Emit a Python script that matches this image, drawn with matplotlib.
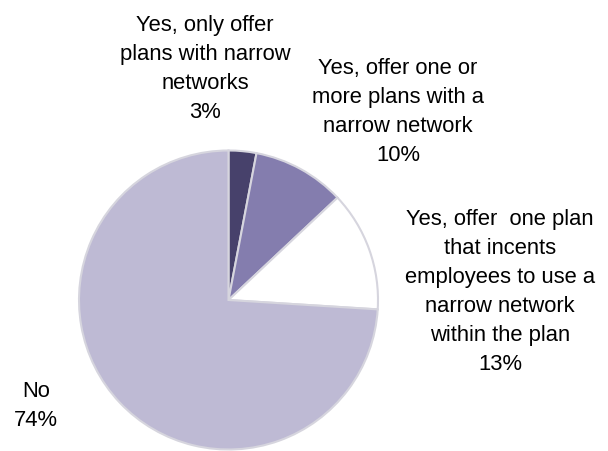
import matplotlib.pyplot as plt

labels = ['Yes, only offer\nplans with narrow\nnetworks',
          'Yes, offer one or\nmore plans with a\nnarrow network',
          'Yes, offer  one plan\nthat incents\nemployees to use a\nnarrow network\nwithin the plan',
          'No']
shares = [3, 10, 13, 74]
colors = ['#47416B', '#847DAE', '#FFFFFF', '#BEBAD4']
# label centres in pixels (x from left, y from top)
label_pos = [(205, 69), (398, 112), (500, 292), (36, 406)]

plt.rcParams['font.family'] = ['Liberation Sans Narrow', 'Liberation Sans', 'DejaVu Sans']

fig = plt.figure(figsize=(6.08, 4.52), dpi=100)
ax = fig.add_axes([0, 0, 1, 1])

ax.pie(shares, colors=colors, startangle=90, counterclock=False,
       center=(228.5, 452 - 301), radius=149.5, frame=True,
       wedgeprops=dict(edgecolor='#D6D5DE', linewidth=1.5))

ax.set_xlim(0, 608)
ax.set_ylim(0, 452)
ax.set_aspect('equal')
ax.axis('off')

for lab, val, (px, py) in zip(labels, shares, label_pos):
    ax.text(px, 452 - py, f'{lab}\n{val}%', ha='center', va='center',
            fontsize=15.8, linespacing=1.5, color='black')

fig.savefig('out.png', dpi=100)
